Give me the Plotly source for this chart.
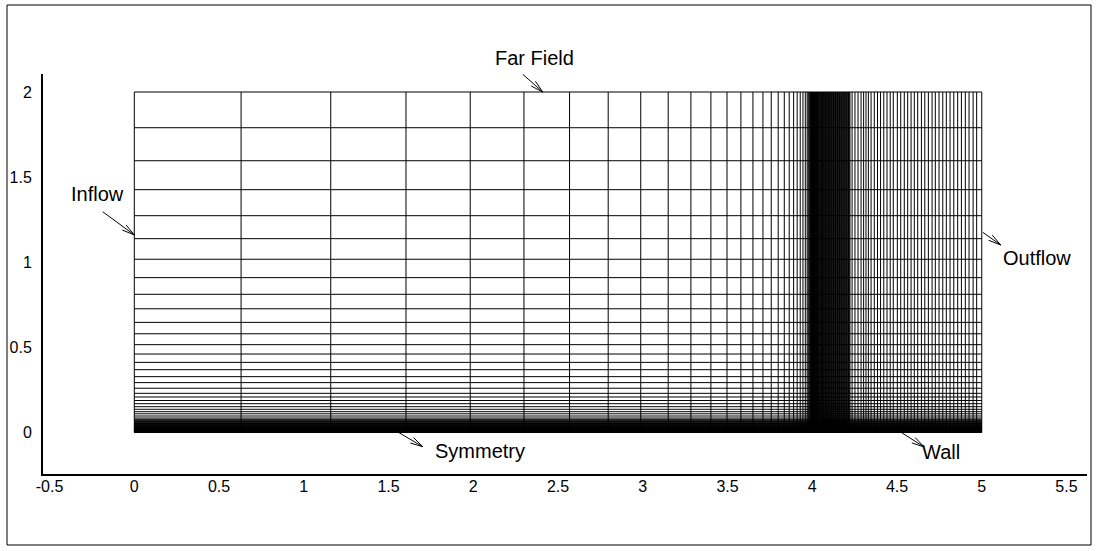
import math
import plotly.graph_objects as go

# ---------------------------------------------------------------- mesh data
# streamwise grid lines, upstream of the plate leading edge (x = 4)
X_UPSTREAM = [0.0, 0.630, 1.159, 1.603, 1.982, 2.299, 2.568, 2.796, 2.988,
              3.150, 3.284, 3.402, 3.497, 3.579, 3.650, 3.709, 3.758, 3.799,
              3.835, 3.864, 3.890, 3.911, 3.929, 3.945, 3.959, 3.970, 3.976,
              3.981, 3.985, 3.989, 3.992, 3.995, 3.9975, 3.9992, 4.0]
# clustered lines just downstream of the leading edge
X_CLUSTER = [4.0008, 4.0018, 4.003, 4.0044, 4.006, 4.0078, 4.0098, 4.012,
             4.0144, 4.017, 4.0197, 4.0225, 4.0254, 4.0284, 4.0314, 4.0345,
             4.0376, 4.0408, 4.044, 4.0472, 4.0505, 4.0538, 4.0571, 4.0605,
             4.0639, 4.0673, 4.0708, 4.0743, 4.0778, 4.0813, 4.0849, 4.0885,
             4.0921, 4.0957, 4.0994, 4.1031, 4.1068, 4.1105, 4.1142, 4.118,
             4.1218, 4.1256, 4.1294, 4.1333, 4.1372, 4.1411, 4.145, 4.149,
             4.153, 4.157, 4.161, 4.165, 4.169, 4.173, 4.177, 4.181, 4.1851,
             4.1892, 4.1933, 4.1974, 4.2015, 4.2056, 4.2098, 4.214, 4.2182,
             4.2224]
# lines over the rest of the wall, out to the outflow boundary
X_DOWNSTREAM = [4.235, 4.252, 4.270, 4.288, 4.303, 4.317, 4.331, 4.347,
                4.366, 4.385, 4.403, 4.422, 4.441, 4.460, 4.478, 4.502,
                4.522, 4.543, 4.563, 4.583, 4.602, 4.622, 4.644, 4.664,
                4.685, 4.707, 4.726, 4.748, 4.770, 4.791, 4.813, 4.835,
                4.858, 4.880, 4.903, 4.925, 4.949, 4.970, 5.0]
# wall-normal grid lines, far field down to the wall
Y_LINES = [2.0, 1.790, 1.596, 1.426, 1.273, 1.138, 1.017, 0.909, 0.811,
           0.726, 0.646, 0.579, 0.515, 0.460, 0.411, 0.368, 0.327, 0.292,
           0.259, 0.229, 0.2075, 0.1869, 0.1681, 0.1505, 0.1352, 0.1211,
           0.1087, 0.0958, 0.0840, 0.0765, 0.0715, 0.067, 0.063, 0.059,
           0.055, 0.0515, 0.048, 0.045, 0.042, 0.039, 0.036, 0.0335, 0.031,
           0.0285, 0.026, 0.024, 0.022, 0.020, 0.018, 0.016, 0.014, 0.0125,
           0.011, 0.0095, 0.008, 0.0067, 0.0055, 0.0044, 0.0034, 0.0025,
           0.0017, 0.001, 0.0004, 0.0]

# ---------------------------------------------------------------- axes
X_TICKS = [-0.5, 0, 0.5, 1, 1.5, 2, 2.5, 3, 3.5, 4, 4.5, 5, 5.5]
X_TICK_TEXT = ["-0.5", "0", "0.5", "1", "1.5", "2", "2.5", "3", "3.5",
               "4", "4.5", "5", "5.5"]
Y_TICKS = [0, 0.5, 1, 1.5, 2]
Y_TICK_TEXT = ["0", "0.5", "1", "1.5", "2"]

# ---------------------------------------------------------------- labels
BC_NAMES = ["Far Field", "Inflow", "Outflow", "Symmetry", "Wall"]
BC_TEXT_X = [2.364, -0.215, 5.326, 2.040, 4.760]
BC_TEXT_Y = [2.199, 1.403, 1.024, -0.110, -0.117]
ARROW_FROM_X = [2.292, -0.186, 5.006, 1.558, 4.524]
ARROW_FROM_Y = [2.104, 1.296, 1.1755, 0.0, 0.0]
ARROW_TO_X = [2.410, 0.0, 5.112, 1.702, 4.660]
ARROW_TO_Y = [2.0, 1.160, 1.1008, -0.0846, -0.0864]

# ---------------------------------------------------------------- layout
W, H = 1099, 551
M_L, M_R, M_T, M_B = 43, 12, 74, 77
X_RANGE = [-0.5387, 5.621]
Y_RANGE = [-0.2451, 2.1058]
FONT = "Liberation Sans, Arial, Helvetica, sans-serif"

plot_w = W - M_L - M_R
plot_h = H - M_T - M_B
px_per_x = plot_w / (X_RANGE[1] - X_RANGE[0])
px_per_y = plot_h / (Y_RANGE[1] - Y_RANGE[0])


def to_paper_x(xv):
    return (xv - X_RANGE[0]) / (X_RANGE[1] - X_RANGE[0])


def to_paper_y(yv):
    return (yv - Y_RANGE[0]) / (Y_RANGE[1] - Y_RANGE[0])


x_all = X_UPSTREAM + X_CLUSTER + X_DOWNSTREAM
x0, x1 = min(x_all), max(x_all)
y0, y1 = min(Y_LINES), max(Y_LINES)

# vertical mesh lines
vx, vy = [], []
for xv in x_all:
    vx += [xv, xv, None]
    vy += [y0, y1, None]
# horizontal mesh lines
hx, hy = [], []
for yv in Y_LINES:
    hx += [x0, x1, None]
    hy += [yv, yv, None]

fig = go.Figure()
line_style = dict(color="black", width=1)
fig.add_trace(go.Scatter(x=vx, y=vy, mode="lines", line=line_style,
                         hoverinfo="skip", showlegend=False))
fig.add_trace(go.Scatter(x=hx, y=hy, mode="lines", line=line_style,
                         hoverinfo="skip", showlegend=False))


def arrow_path(xa, ya, xb, yb, barb_px=13.0, half_angle_deg=14.0):
    """Shaft from (xa, ya) to (xb, yb) with an open two-barb head at b."""
    dx = (xb - xa) * px_per_x
    dy = (yb - ya) * px_per_y
    n = math.hypot(dx, dy)
    ux, uy = dx / n, dy / n
    pts = []
    for s in (1, -1):
        a = math.radians(half_angle_deg) * s
        rx = ux * math.cos(a) - uy * math.sin(a)
        ry = ux * math.sin(a) + uy * math.cos(a)
        pts.append((xb - rx * barb_px / px_per_x, yb - ry * barb_px / px_per_y))
    (p1x, p1y), (p2x, p2y) = pts
    return (f"M {xa},{ya} L {xb},{yb} "
            f"M {p1x},{p1y} L {xb},{yb} L {p2x},{p2y}")


shapes = []
for i in range(len(BC_NAMES)):
    shapes.append(dict(type="path", xref="x", yref="y",
                       path=arrow_path(ARROW_FROM_X[i], ARROW_FROM_Y[i],
                                       ARROW_TO_X[i], ARROW_TO_Y[i]),
                       line=dict(color="black", width=1)))

# outer frame round the whole figure
frame_px = (7, 5, 1091, 545)
shapes.append(dict(type="rect", xref="paper", yref="paper",
                   x0=(frame_px[0] - M_L) / plot_w,
                   x1=(frame_px[2] - M_L) / plot_w,
                   y0=(H - M_B - frame_px[3]) / plot_h,
                   y1=(H - M_B - frame_px[1]) / plot_h,
                   line=dict(color="black", width=1)))

annotations = [dict(x=to_paper_x(BC_TEXT_X[i]), y=to_paper_y(BC_TEXT_Y[i]),
                    xref="paper", yref="paper",
                    text=BC_NAMES[i], showarrow=False,
                    xanchor="center", yanchor="middle",
                    font=dict(family=FONT, size=20, color="black"))
               for i in range(len(BC_NAMES))]

fig.update_layout(
    width=W, height=H,
    margin=dict(l=M_L, r=M_R, t=M_T, b=M_B, pad=0, autoexpand=False),
    paper_bgcolor="white", plot_bgcolor="white",
    shapes=shapes, annotations=annotations,
    font=dict(family=FONT, size=16, color="black"),
    xaxis=dict(range=X_RANGE, showgrid=False, zeroline=False,
               showline=True, linecolor="black", linewidth=2,
               automargin=False,
               ticks="", tickmode="array", tickvals=X_TICKS,
               ticktext=X_TICK_TEXT, ticklabelstandoff=-3),
    yaxis=dict(range=Y_RANGE, showgrid=False, zeroline=False,
               showline=True, linecolor="black", linewidth=2,
               automargin=False,
               ticks="", tickmode="array", tickvals=Y_TICKS,
               ticktext=Y_TICK_TEXT, ticklabelstandoff=6),
)

fig.write_html("out.html")
